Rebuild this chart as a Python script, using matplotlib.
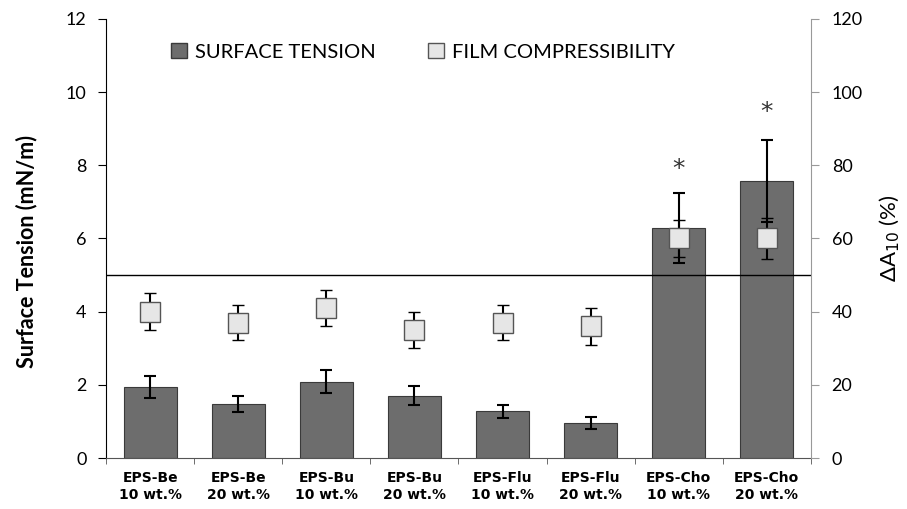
import matplotlib.pyplot as plt
import numpy as np

categories = ["EPS-Be\n10 wt.%", "EPS-Be\n20 wt.%", "EPS-Bu\n10 wt.%", "EPS-Bu\n20 wt.%",
              "EPS-Flu\n10 wt.%", "EPS-Flu\n20 wt.%", "EPS-Cho\n10 wt.%", "EPS-Cho\n20 wt.%"]
surface_tension = [1.93, 1.47, 2.09, 1.71, 1.28, 0.95, 6.28, 7.57]
surface_err = [0.30, 0.22, 0.31, 0.26, 0.18, 0.16, 0.95, 1.12]
film_comp = [40, 37, 41, 35, 37, 36, 60, 60]
film_err = [5, 4.8, 5, 5, 4.8, 5, 5, 5.5]
star_y = [None, None, None, None, None, None, 7.9, 9.45]
threshold = 5

plt.rcParams["font.family"] = ["Lato", "DejaVu Sans"]

fig = plt.figure(figsize=(9.07, 5.09), dpi=100)
ax = fig.add_axes([0.117, 0.100, 0.777, 0.863])
ax2 = ax.twinx()

x = np.arange(len(categories))
ax.bar(x, surface_tension, width=0.6, color="#6d6d6d", edgecolor="#3a3a3a",
       linewidth=0.8, label="SURFACE TENSION", zorder=2)
ax.errorbar(x, surface_tension, yerr=surface_err, fmt="none", ecolor="black",
            elinewidth=1.5, capsize=4, capthick=1.5, zorder=3)
ax.axhline(threshold, color="black", linewidth=1.0, zorder=4)
for xi, sy in zip(x, star_y):
    if sy is not None:
        ax.text(xi, sy, "*", ha="center", va="center", fontsize=18, color="#333333",
                family="DejaVu Sans")

ax2.errorbar(x, film_comp, yerr=film_err, fmt="s", markersize=14,
             markerfacecolor="#e6e6e6", markeredgecolor="#555555", markeredgewidth=1.0,
             ecolor="black", elinewidth=1.5, capsize=4, capthick=1.5, zorder=5)

ax.set_xlim(-0.5, 7.5)
ax.set_ylim(0, 12)
ax2.set_ylim(0, 120)
ax.set_yticks(range(0, 13, 2))
ax2.set_yticks(range(0, 121, 20))
ax.set_xticks(x)
ax.set_xticklabels(categories, fontsize=10, fontweight="bold", family="DejaVu Sans",
                   linespacing=1.35)
ax.set_xticks(np.arange(-0.5, 8, 1), minor=True)
ax.tick_params(axis="x", which="major", length=0, pad=9)
ax.tick_params(axis="x", which="minor", length=4, color="#555555")
ax.tick_params(axis="y", labelsize=13, length=6, pad=8)
ax2.tick_params(axis="y", labelsize=13, length=6, pad=9, color="#999999")

for a in (ax, ax2):
    a.spines["top"].set_visible(False)
ax2.spines["left"].set_visible(False)
ax2.spines["bottom"].set_visible(False)
ax2.spines["right"].set_color("#999999")
ax.spines["right"].set_visible(False)
ax.spines["bottom"].set_color("#555555")

ax.set_ylabel("Surface Tension (mN/m)", fontsize=15.5, fontweight="bold")
ax.yaxis.set_label_coords(-0.098, 0.47)
ax2.set_ylabel("ΔA$_{10}$ (%)", fontsize=16)
ax2.yaxis.set_label_coords(1.095, 0.5)

handles = [plt.Rectangle((0, 0), 1, 1, facecolor="#6d6d6d", edgecolor="#3a3a3a"),
           plt.Rectangle((0, 0), 1, 1, facecolor="#e6e6e6", edgecolor="#555555")]
fig.legend(handles, ["SURFACE TENSION", "FILM COMPRESSIBILITY"], loc="center",
           bbox_to_anchor=(0.466, 0.898), ncol=2, frameon=False, fontsize=14.5,
           handlelength=0.8, handleheight=0.8, handletextpad=0.4, columnspacing=2.6)

fig.savefig("out.png", dpi=100)
